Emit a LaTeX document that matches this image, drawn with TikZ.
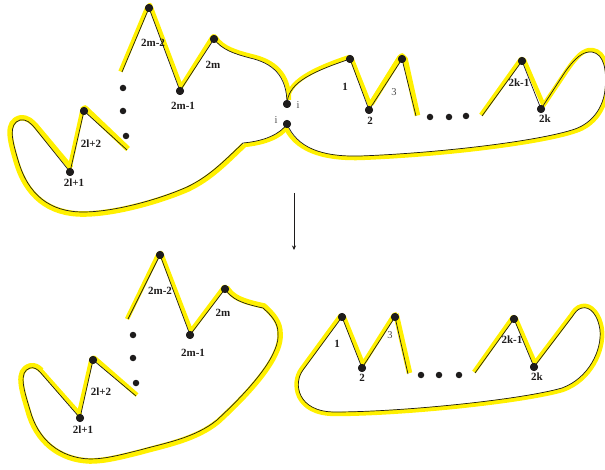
\documentclass[tikz,border=0pt]{standalone}
\usetikzlibrary{arrows.meta}
\usepackage{fontspec}
\setmainfont{Liberation Serif}
\definecolor{ribbon}{RGB}{255,240,0}
\definecolor{ink}{RGB}{30,28,28}
\tikzset{
  ribbonline/.style={draw=ribbon,line width=4.4pt,line join=round,line cap=butt},
  wide/.style={line width=5.6pt},
  edge/.style={draw=ink,line width=0.7pt,line join=miter},
  vert/.style={circle,fill=ink,inner sep=0pt,minimum size=8pt},
  dotmark/.style={circle,fill=ink,inner sep=0pt,minimum size=6.5pt},
  lab/.style={font=\bfseries\fontsize{11}{11}\selectfont,text=ink,inner sep=0pt},
  thin lab/.style={font=\fontsize{10.5}{10.5}\selectfont,text=black!70,inner sep=0pt},
}
\begin{document}
\begin{tikzpicture}[x=1pt,y=-1pt]
\useasboundingbox (0,0) rectangle (605,470);
\clip (0,0) rectangle (605,470);
% free ends and bends
\coordinate (fa) at (122,72);
\coordinate (fb) at (127,150);
\coordinate (fc) at (416,116);
\coordinate (fd) at (482,116);
\coordinate (bend) at (243,143);
\coordinate (ga) at (128,319);
\coordinate (gb) at (136,396);
\coordinate (gc) at (408,374);
\coordinate (gd) at (475,373);
% ribbons upper
\draw[ribbonline] (120.5,71.5) -- (147.5,7) -- (150,5) -- (151.5,9) -- (181,87) -- (212.5,37) -- (214,36) -- (216,38);
\draw[ribbonline] (215.5,37.5) .. controls (223,48.5) and (236,52) .. (251,56) .. controls (274,61) and (289,74) .. (289,100);
\draw[ribbonline] (288,98) .. controls (289,85) and (304,72) .. (349.5,57);
\draw[ribbonline] (349,57) -- (351.5,58.5) -- (370,105) -- (400,57);
\draw[ribbonline,wide] (371,104) -- (400,57.5) -- (402,56) -- (405,59) -- (417.5,115.5);
\draw[ribbonline] (481,115) -- (521,59) -- (524,60) -- (543,104);
\draw[ribbonline] (543,106) -- (566.5,71) .. controls (576.5,56.5) and (583.5,49) .. (592.5,50) .. controls (606,52) and (609,70) .. (607,90) .. controls (605,109) and (594,125) .. (575.5,131) .. controls (540.5,143) and (440,155) .. (360,158) .. controls (319,159) and (295,148) .. (285.5,127);
\draw[ribbonline] (287,127) .. controls (281,136) and (266,143) .. (244,145);
\draw[ribbonline,wide] (244,145) .. controls (226,162) and (211,178) .. (188,189) .. controls (160.5,201) and (115,214) .. (83,214) .. controls (49,214) and (26,196) .. (16,160.5) .. controls (10,140) and (5,122) .. (20,118) .. controls (28,117) and (32,122) .. (36,126);
\draw[ribbonline,wide] (35.5,125.5) -- (71,168);
\draw[ribbonline] (69,171) -- (82.5,110) -- (85,108);
\draw[ribbonline,wide] (82,110) -- (85,108) -- (128,149);
% ribbons lower
\draw[ribbonline] (127,319) -- (158.5,254) -- (161,253) -- (191,331) -- (224,287) -- (226.5,287);
\draw[ribbonline,wide] (226.5,287.5) .. controls (233,297.5) and (241,301) .. (264,306) .. controls (274,315) and (280,323) .. (280,333) .. controls (282,353) and (259.5,383.5) .. (218,421.5) .. controls (196,439.5) and (165.5,445) .. (140.5,452) .. controls (120.5,457) and (105,461) .. (90,461) .. controls (59,460) and (36,441) .. (28,410.5) .. controls (22,390) and (15,370.5) .. (30,366) .. controls (35,365) and (38,367) .. (41.5,370.5);
\draw[ribbonline] (40.5,370) -- (80.5,415) (78.5,416) -- (91.5,359) -- (94,357.5) -- (137,395);
\draw[ribbonline] (343.5,316) -- (363,364) -- (394,315) -- (397,314);
\draw[ribbonline,wide] (396,314) -- (409.5,373);
\draw[ribbonline] (474,372) -- (513,317) -- (515.5,318) -- (535,363) -- (571,315.5);
\draw[ribbonline] (341,315) -- (301.5,369) .. controls (291,383) and (295,414) .. (335,414) .. controls (400,414) and (520.5,402) .. (562.5,390) .. controls (591,380) and (604,350) .. (602,330) .. controls (600,314) and (591,304) .. (582,306) .. controls (576.5,307) and (573.5,311.5) .. (571,315.5);
% vertices: upper figure
\node[vert] (p1) at (149,8) {};
\node[vert] (p2) at (180,91) {};
\node[vert] (p3) at (214,39) {};
\node[vert] (iu) at (287,104) {};
\node[vert] (il) at (287,124) {};
\node[vert] (p4) at (84,111) {};
\node[vert] (p5) at (70,172) {};
\node[vert] (q1) at (350,59) {};
\node[vert] (q2) at (369,110) {};
\node[vert] (q3) at (402,59) {};
\node[vert] (q4) at (522,61) {};
\node[vert] (q5) at (541,109) {};
% vertices: lower figure
\node[vert] (r1) at (160,255) {};
\node[vert] (r2) at (190,335) {};
\node[vert] (r3) at (225,289) {};
\node[vert] (r4) at (93,360) {};
\node[vert] (r5) at (80,418) {};
\node[vert] (s1) at (342,317) {};
\node[vert] (s2) at (362,368) {};
\node[vert] (s3) at (395,317) {};
\node[vert] (s4) at (514,319) {};
\node[vert] (s5) at (534,367) {};
% black contour upper
\draw[edge] (fa) -- (p1.center) -- (p2.center) -- (p3.center);
\draw[edge] (p3.center) .. controls (222,50) and (235,54) .. (250,58) .. controls (272,63) and (287,75) .. (iu.center);
\draw[edge] (iu.center) .. controls (288,85) and (305,74) .. (q1.center);
\draw[edge] (q1.center) -- (q2.center) -- (q3.center) -- (fc);
\draw[edge] (fd) -- (q4.center) -- (q5.center) -- (565,72) .. controls (575,58) and (583,51) .. (592,52) .. controls (604,54) and (607,70) .. (605,90) .. controls (603,108) and (592,123) .. (575,129) .. controls (540,141) and (440,153) .. (360,156) .. controls (320,157) and (297,147) .. (il.center);
\draw[edge] (il.center) .. controls (280,134) and (265,141) .. (bend);
\draw[edge] (bend) .. controls (225,160) and (210,176) .. (187,187) .. controls (160,199) and (115,212) .. (83,212) .. controls (50,212) and (28,195) .. (18,160) .. controls (12,140) and (8,124) .. (20,120) .. controls (27,119) and (30,123) .. (34,127) -- (p5.center) -- (p4.center) -- (fb);
% black contour lower
\draw[edge] (ga) -- (r1.center) -- (r2.center) -- (r3.center);
\draw[edge] (r3.center) .. controls (232,299) and (240,303) .. (263,308) .. controls (272,316) and (278,323) .. (278,333) .. controls (280,352) and (258,382) .. (217,420) .. controls (195,438) and (165,443) .. (140,450) .. controls (120,455) and (105,459) .. (90,459) .. controls (60,458) and (38,440) .. (30,410) .. controls (24,390) and (18,372) .. (30,368) .. controls (34,367) and (37,369) .. (40,372) -- (r5.center) -- (r4.center) -- (gb);
\draw[edge] (s1.center) -- (s2.center) -- (s3.center) -- (gc);
\draw[edge] (gd) -- (s4.center) -- (s5.center) -- (572,317) .. controls (575,313) and (577,309) .. (582,308) .. controls (590,306) and (598,315) .. (600,330) .. controls (602,350) and (589,378) .. (562,388) .. controls (520,400) and (400,412) .. (335,412) .. controls (297,412) and (293,383) .. (303,370) -- (s1.center);
% vertices on top of the contour
\foreach \n in {p1,p2,p3,iu,il,p4,p5,q1,q2,q3,q4,q5,r1,r2,r3,r4,r5,s1,s2,s3,s4,s5}
  \fill[ink] (\n) circle (4pt);
% ellipsis dots
\node[dotmark] (d1) at (123,88) {};
\node[dotmark] (d2) at (123,111) {};
\node[dotmark] (d3) at (126,136) {};
\node[dotmark] (d4) at (430,117) {};
\node[dotmark] (d5) at (449,117) {};
\node[dotmark] (d6) at (466,116) {};
\node[dotmark] (d7) at (133,335) {};
\node[dotmark] (d8) at (133,358) {};
\node[dotmark] (d9) at (136,383) {};
\node[dotmark] (d10) at (421,375) {};
\node[dotmark] (d11) at (439,375) {};
\node[dotmark] (d12) at (459,375) {};
% arrow
\coordinate (aa) at (294,193);
\coordinate (ab) at (294,250);
\draw[ink,line width=0.6pt,-{Stealth[length=4.5pt,width=4pt]}] (aa) -- (ab);
% labels upper
\node[lab] (l1) at (153,43) {2m-2};
\node[lab] (l2) at (213,65) {2m};
\node[lab] (l3) at (183,106) {2m-1};
\node[lab] (l4) at (91,144) {2l+2};
\node[lab] (l5) at (74,183) {2l+1};
\node[thin lab] (l6) at (298,105) {i};
\node[thin lab] (l7) at (276,120) {i};
\node[lab] (l8) at (345,87) {1};
\node[lab] (l9) at (370,121) {2};
\node[thin lab] (l10) at (394,92) {3};
\node[lab] (l11) at (519,83) {2k-1};
\node[lab] (l12) at (545,119) {2k};
% labels lower
\node[lab] (m1) at (160,291) {2m-2};
\node[lab] (m2) at (223,313) {2m};
\node[lab] (m3) at (193,353) {2m-1};
\node[lab] (m4) at (101,392) {2l+2};
\node[lab] (m5) at (83,430) {2l+1};
\node[lab] (m6) at (337,344) {1};
\node[lab] (m7) at (362,378) {2};
\node[thin lab] (m8) at (390,335) {3};
\node[lab] (m9) at (512,340) {2k-1};
\node[lab] (m10) at (537,377) {2k};
\end{tikzpicture}
\end{document}
